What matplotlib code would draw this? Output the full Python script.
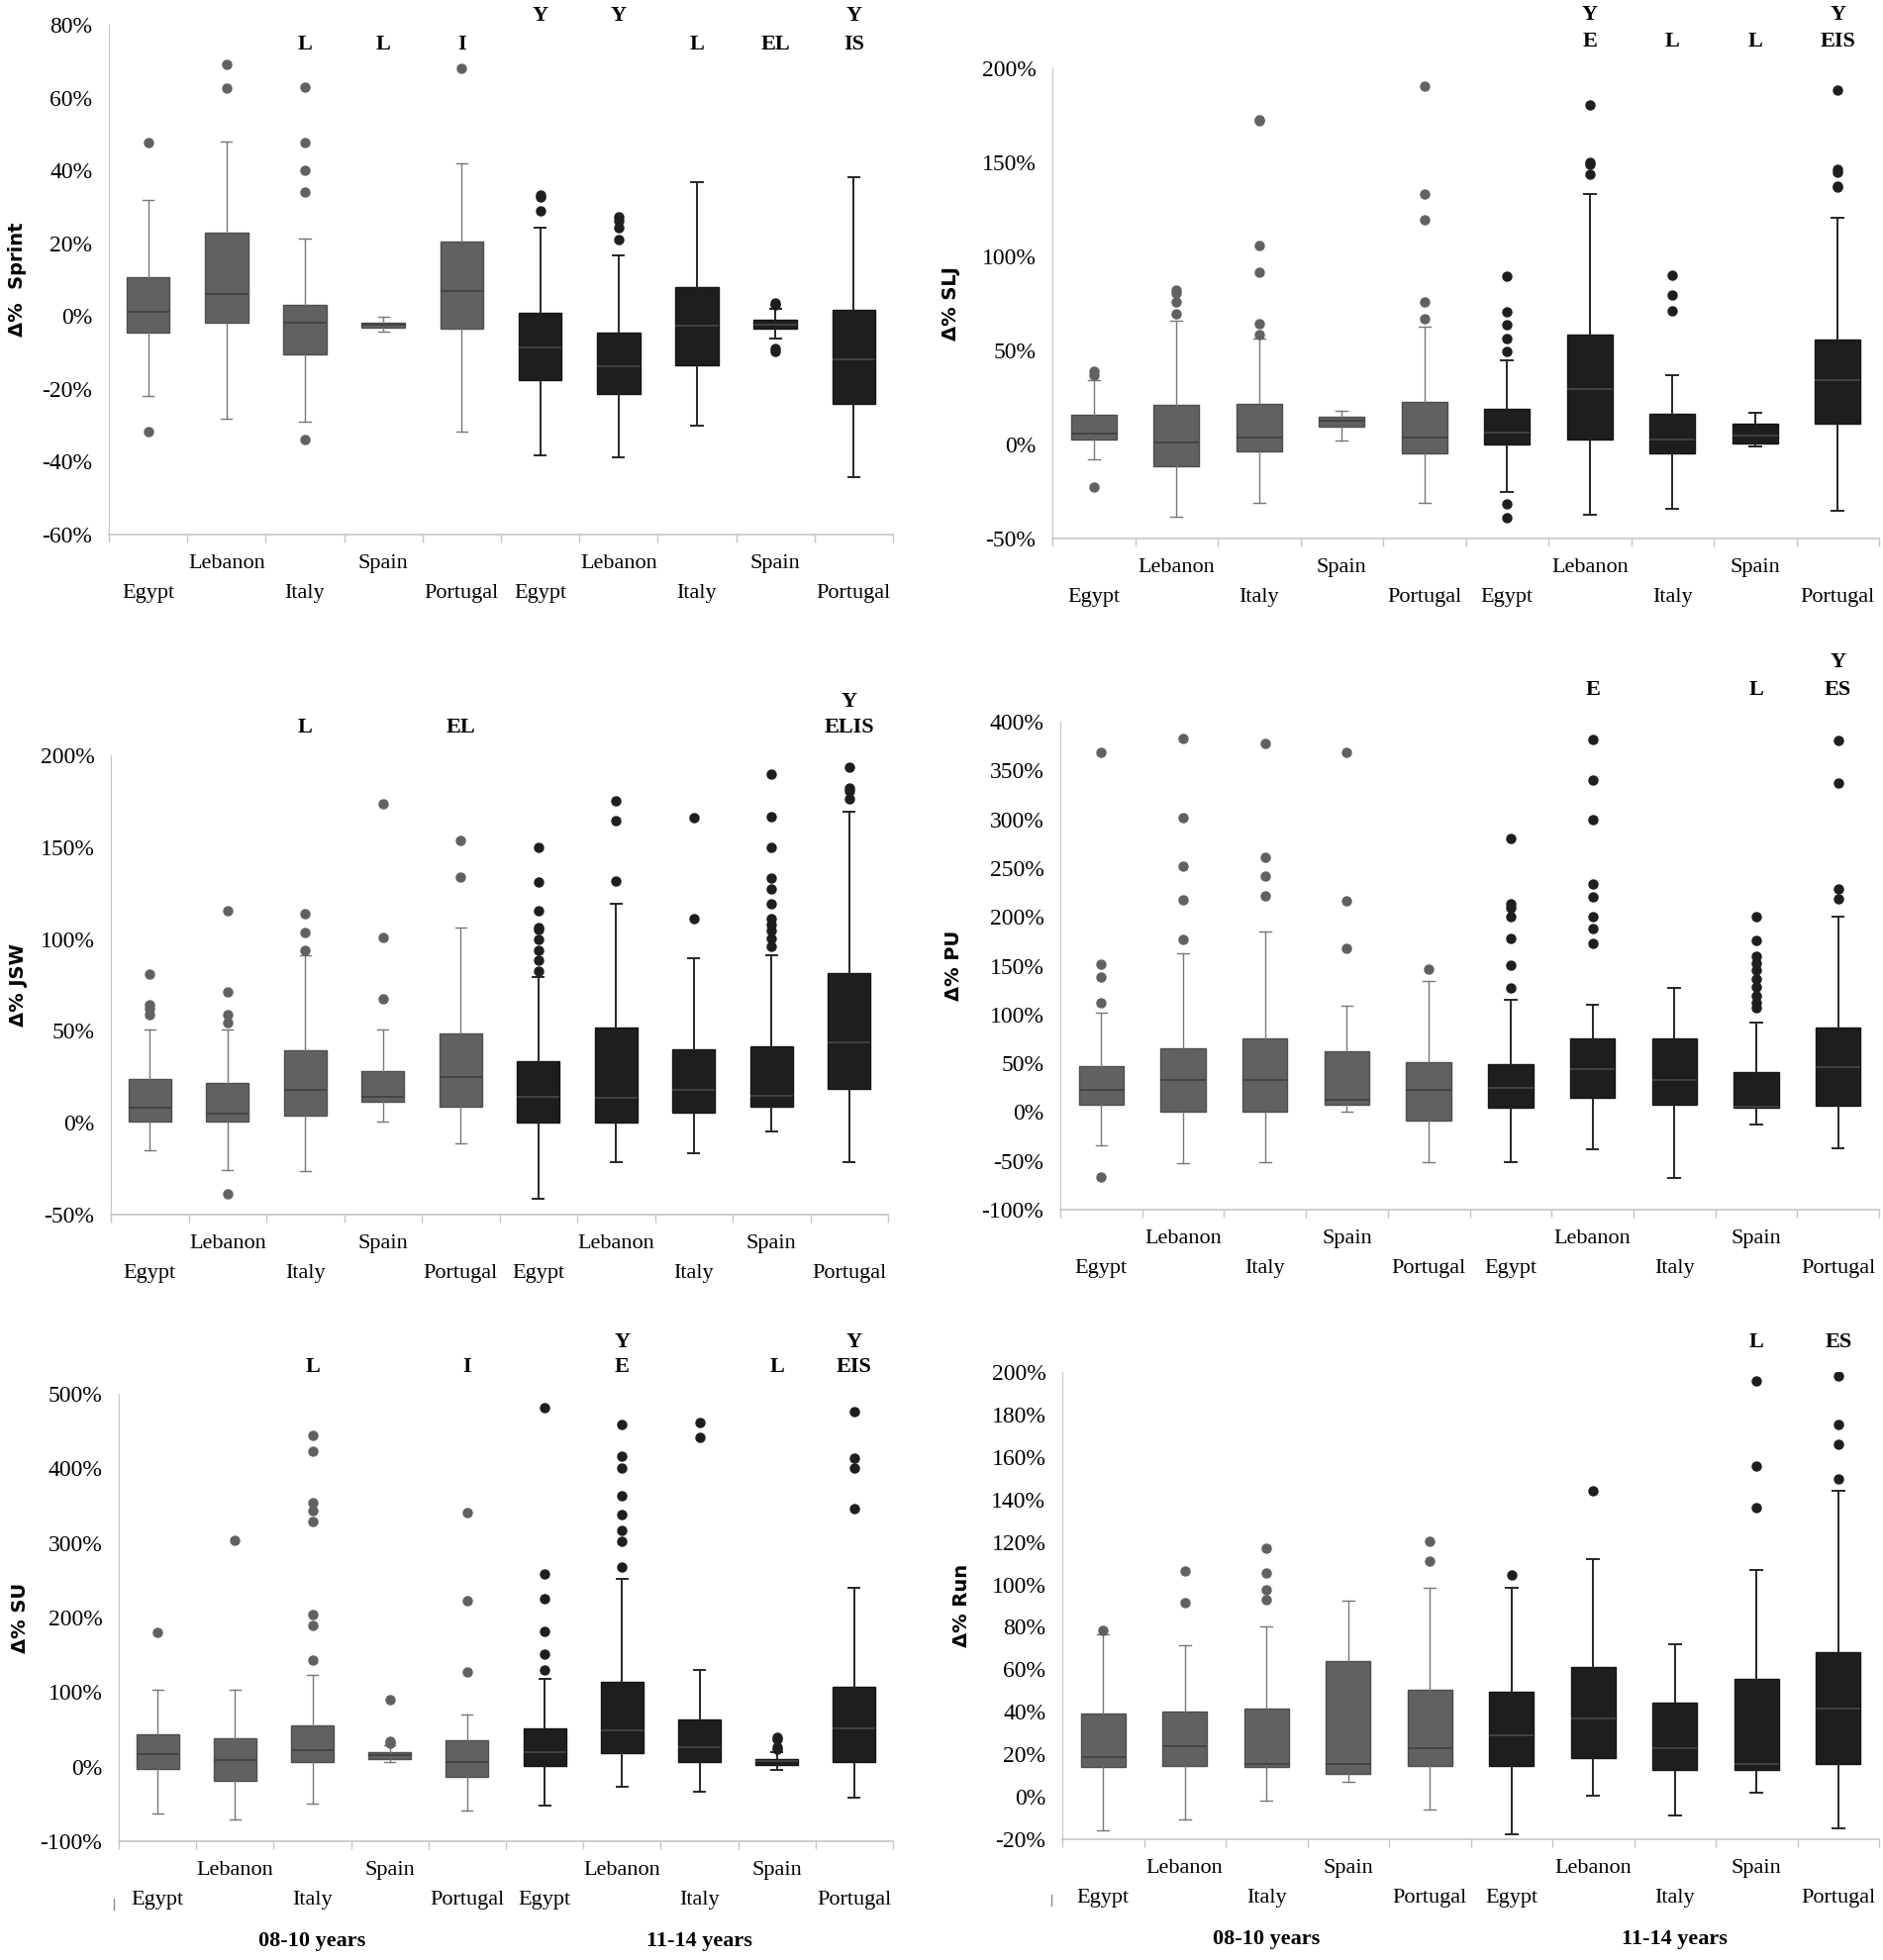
import matplotlib
matplotlib.use('Agg')
import matplotlib.pyplot as plt
from matplotlib.lines import Line2D
from matplotlib.ticker import MultipleLocator, FuncFormatter

countries = ['Egypt', 'Lebanon', 'Italy', 'Spain', 'Portugal']
age_groups = ['08-10 years', '11-14 years']

# values in %, first five boxes 08-10 years, last five 11-14 years
sprint_q1 = [-4.6, -1.7, -10.6, -3.1, -3.4, -17.6, -21.3, -13.6, -3.4, -24.1]
sprint_med = [1.3, 6.1, -1.7, -2.3, 7.0, -8.6, -13.7, -2.7, -2.3, -11.9]
sprint_q3 = [10.6, 22.8, 3.1, -1.7, 20.6, 1.0, -4.6, 8.0, -0.9, 1.7]
sprint_lo = [-22, -28.3, -29.1, -4.2, -31.7, -38.3, -38.7, -30, -6.1, -44.2]
sprint_hi = [32, 48, 21.3, -0.2, 42, 24.3, 16.6, 36.9, 2.1, 38]
sprint_out = [[47.6, -31.7], [69.2, 62.6], [63, 47.6, 40, 34.1, -33.9], [], [68.1],
              [33.3, 32.8, 29], [27.2, 26.3, 24.3, 21], [], [3.7, 3.1, -8.9, -9.7], []]
sprint_sig1 = ['', '', '', '', '', 'Y', 'Y', '', '', 'Y']
sprint_sig2 = ['', '', 'L', 'L', 'I', '', '', 'L', 'EL', 'IS']

slj_q1 = [2.4, -11.8, -3.6, 9.7, -4.7, 0.2, 2.4, -4.7, 0.6, 10.9]
slj_med = [5.6, 1.1, 3.9, 12.4, 3.9, 6.4, 29.4, 2.8, 4.9, 34.1]
slj_q3 = [15.7, 20.8, 21.5, 15, 22.7, 18.9, 58.6, 16.1, 10.9, 55.8]
slj_lo = [-7.9, -38.6, -30.9, 2.1, -31.1, -25.5, -37.6, -34.1, -1.1, -35]
slj_hi = [34.3, 65.9, 56.5, 17.8, 62.4, 44.6, 133.3, 36.7, 17, 120.6]
slj_out = [[38.8, 37.1, -22.5], [82.2, 80.7, 75.8, 69.7], [172.7, 171.9, 105.8, 91.8, 64.4, 58.6], [],
           [190.5, 133, 119.7, 75.8, 66.7], [89.5, 70.4, 63.9, 56.4, 49.6, -31.5, -39],
           [180.5, 150.2, 148.7, 143.8], [90.1, 79.4, 71], [], [188.4, 146.4, 144.8, 137.6, 136.7]]
slj_sig1 = ['', '', '', '', '', '', 'Y', '', '', 'Y']
slj_sig2 = ['', '', '', '', '', '', 'E', 'L', 'L', 'EIS']

jsw_q1 = [0.9, 0.9, 4.1, 11.3, 8.8, 0, 0, 5.4, 8.8, 18.6]
jsw_med = [8.1, 5, 18.1, 14, 24.7, 14, 13.6, 18.1, 14.7, 43.9]
jsw_q3 = [24, 21.7, 39.6, 28.3, 48.4, 33.7, 51.6, 40, 41.6, 81.2]
jsw_lo = [-14.9, -25.8, -26.2, 0.9, -11.3, -41.6, -21.7, -16.5, -4.8, -21.7]
jsw_hi = [50.9, 51, 91, 50.9, 106.3, 79.4, 119, 89.8, 91, 169.5]
jsw_out = [[80.8, 64.3, 62, 58.6], [115.2, 71, 58.6, 54.5, -38.5], [114, 103.6, 94], [173.8, 100.9, 67.4],
           [153.6, 133.9], [149.8, 131, 115.6, 106.3, 105, 100, 94.1, 88.7, 82.8], [175.1, 164.7, 131.4],
           [166, 111.3], [190, 166.5, 149.8, 133.3, 127.1, 119, 111.3, 107.9, 104.5, 100.5, 96],
           [193.4, 182.1, 180.5, 176.5]]
jsw_sig1 = ['', '', '', '', '', '', '', '', '', 'Y']
jsw_sig2 = ['', '', 'L', '', 'EL', '', '', '', '', 'ELIS']

pu_q1 = [7.3, 0, 0, 7.3, -8.5, 4.3, 14.9, 7.3, 4.3, 6]
pu_med = [23, 32.4, 32.4, 12.8, 23, 24.3, 44.4, 32.4, 5.5, 45.6]
pu_q3 = [46.9, 65.3, 75.9, 62.7, 50.8, 49, 75.9, 75.9, 41.4, 86.2]
pu_lo = [-34.1, -52, -51.2, 0, -51.2, -51.2, -38.4, -67.4, -12.8, -36.7]
pu_hi = [101.5, 163, 185.2, 109.2, 134.4, 114.8, 110, 127.6, 91.7, 200.5]
pu_out = [[369, 151.5, 138.7, 112.2, -66.1], [382.7, 301.6, 251.7, 217.6, 176.6], [377.6, 261.5, 241.9, 221.8],
          [369, 216.7, 168.1], [146.3], [280.3, 213.3, 209, 199.7, 177.9, 150.2, 126.7],
          [381.4, 340, 300, 233.8, 220.6, 199.7, 187.7, 172.8], [],
          [199.7, 175.8, 160, 152.7, 145, 136.5, 128, 119.5, 111.8, 106.7], [380.5, 337, 229.1, 218.4]]
pu_sig1 = ['', '', '', '', '', '', '', '', '', 'Y']
pu_sig2 = ['', '', '', '', '', '', 'E', '', 'L', 'ES']

su_q1 = [-3.2, -18.9, 6.5, 10.8, -14.1, 1.1, 18.4, 6.5, 2.7, 6.5]
su_med = [16.2, 9.2, 22.7, 15.7, 6.5, 20, 48.2, 26.5, 7.6, 51.4]
su_q3 = [42.8, 37.4, 55.8, 19, 35.2, 51.4, 113.2, 63.3, 10.8, 107.7]
su_lo = [-63.3, -70.9, -49.3, 6.5, -58.5, -52, -27.1, -33, -4.3, -42.2]
su_hi = [103.4, 103.4, 122.4, 28.2, 69.8, 117.5, 251.2, 129.9, 20, 239.8]
su_out = [[179.7], [303.2], [444, 423.4, 354.6, 343.8, 328.6, 204.1, 189, 142.9], [90.4, 34.7, 30.9],
          [341.1, 223.1, 127.2], [481.9, 258.3, 225.8, 180.8, 151, 129.4],
          [458.6, 416.9, 400.6, 363.8, 338.4, 316.7, 301.6, 268], [461.3, 441.3],
          [39.5, 36.8, 26.5, 23.8], [475.9, 413.6, 400.6, 346]]
su_sig1 = ['', '', '', '', '', '', 'Y', '', '', 'Y']
su_sig2 = ['', '', 'L', '', 'I', '', 'E', '', 'L', 'EIS']

run_q1 = [13.9, 14.4, 13.9, 10.6, 14.4, 14.4, 18.1, 12.5, 12.4, 15.2]
run_med = [18.6, 24, 15.6, 15.4, 22.8, 29.1, 36.7, 22.8, 15.4, 41.4]
run_q3 = [39, 39.9, 41.4, 63.7, 50.4, 49.4, 61, 44.3, 55.3, 68.1]
run_lo = [-15.6, -10.5, -1.7, 7, -6.1, -17.7, 0.6, -8.6, 2.1, -15]
run_hi = [76.6, 71.3, 80.4, 92.2, 98.5, 98.5, 111.8, 71.9, 107, 143.9]
run_out = [[78.5], [106.1, 91.3], [117.1, 105.5, 97.5, 92.6], [], [120.3, 110.8], [104.6], [143.9], [],
           [195.8, 155.5, 136.3], [198.3, 175.1, 166, 149.8]]
run_sig1 = ['', '', '', '', '', '', '', '', '', '']
run_sig2 = ['', '', '', '', '', '', '', '', 'L', 'ES']

W, H = 1902, 1980
SERIF = 'Liberation Serif'
GREY = '#616161'
DARK = '#1e1e1e'
AXC = '#c6c6c6'

fig = plt.figure(figsize=(W / 100, H / 100), dpi=100)


def px_rect(l, t, r, b):
    return [l / W, 1 - b / H, (r - l) / W, (b - t) / H]


def draw_panel(ax, name, q1, med, q3, lo, hi, out, sig1, sig2,
               ylim, step, sig_y, label_x, bottom_row=False):
    stats = []
    for i in range(10):
        stats.append(dict(q1=q1[i], med=med[i], q3=q3[i], whislo=lo[i],
                          whishi=hi[i], fliers=out[i]))
    pos = list(range(1, 11))
    for grp, fc, ec, wc, lw in [(slice(0, 5), GREY, '#4e4e4e', '#777777', 1.0),
                                 (slice(5, 10), DARK, '#151515', '#262626', 1.4)]:
        ax.bxp(stats[grp], positions=pos[grp], widths=0.55, capwidths=0.14,
               patch_artist=True, manage_ticks=False,
               boxprops=dict(facecolor=fc, edgecolor=ec, linewidth=1.0),
               medianprops=dict(color='#3f3f3f' if fc == GREY else '#474747', linewidth=1.2),
               whiskerprops=dict(color=wc, linewidth=lw),
               capprops=dict(color=wc, linewidth=lw),
               flierprops=dict(marker='o', markerfacecolor=fc, markeredgecolor=fc,
                               markersize=6.5, linestyle='none'))

    ax.set_xlim(0.5, 10.5)
    ax.set_ylim(*ylim)
    ax.yaxis.set_major_locator(MultipleLocator(step))
    ax.yaxis.set_major_formatter(FuncFormatter(lambda v, _: f'{v:.0f}%'))
    for s in ['top', 'right', 'bottom']:
        ax.spines[s].set_visible(False)
    ax.spines['left'].set_color(AXC)
    ax.tick_params(axis='y', length=0, pad=12, labelsize=17)
    for lab in ax.get_yticklabels():
        lab.set_fontfamily(SERIF)

    # category axis: two segments with separators
    xt = ax.get_xaxis_transform()
    ax.plot([0.5, 5.49], [0, 0], color=AXC, lw=1.2, transform=xt, clip_on=False)
    ax.plot([5.51, 10.5], [0, 0], color=AXC, lw=1.2, transform=xt, clip_on=False)
    ax.set_xticks([p + 0.5 for p in range(0, 11)])
    ax.set_xticklabels([])
    ax.tick_params(axis='x', length=6, width=1, color=AXC, direction='out')

    for i in range(10):
        c = countries[i % 5]
        off = -21.5 if c in ('Lebanon', 'Spain') else -42.5
        ax.annotate(c, xy=(pos[i], 0), xycoords=xt, xytext=(0, off),
                    textcoords='offset points', ha='center', va='center',
                    fontsize=16, family=SERIF, annotation_clip=False)
        for txt, fy in [(sig1[i], sig_y[0]), (sig2[i], sig_y[1])]:
            if txt:
                ax.text(pos[i], fy, txt, transform=xt, ha='center', va='center',
                        fontsize=16, fontweight='bold', family=SERIF, clip_on=False)

    if bottom_row:
        for g, cx in zip(age_groups, [3, 8]):
            ax.annotate(g, xy=(cx, 0), xycoords=xt, xytext=(0, -73),
                        textcoords='offset points', ha='center', va='center',
                        fontsize=16, fontweight='bold', family=SERIF,
                        annotation_clip=False)

    bb = ax.get_position()
    fig.text(label_x / W, bb.y0 + bb.height / 2, name, rotation=90,
             ha='center', va='center', fontsize=14, fontweight='bold',
             family='DejaVu Sans')


ax1 = fig.add_axes(px_rect(110, 25, 902, 540))
draw_panel(ax1, 'Δ%  Sprint', sprint_q1, sprint_med, sprint_q3, sprint_lo, sprint_hi,
           sprint_out, sprint_sig1, sprint_sig2, (-60, 80), 20, (1.018, 0.962), 18)

ax2 = fig.add_axes(px_rect(1063, 69, 1898, 544))
draw_panel(ax2, 'Δ% SLJ', slj_q1, slj_med, slj_q3, slj_lo, slj_hi,
           slj_out, slj_sig1, slj_sig2, (-50, 200), 50, (1.114, 1.057), 961)

ax3 = fig.add_axes(px_rect(112, 763, 897, 1227))
draw_panel(ax3, 'Δ% JSW', jsw_q1, jsw_med, jsw_q3, jsw_lo, jsw_hi,
           jsw_out, jsw_sig1, jsw_sig2, (-50, 200), 50, (1.116, 1.060), 18)

ax4 = fig.add_axes(px_rect(1071, 729, 1898, 1222))
draw_panel(ax4, 'Δ% PU', pu_q1, pu_med, pu_q3, pu_lo, pu_hi,
           pu_out, pu_sig1, pu_sig2, (-100, 400), 50, (1.121, 1.065), 964)

ax5 = fig.add_axes(px_rect(120, 1408, 902, 1860))
draw_panel(ax5, 'Δ% SU', su_q1, su_med, su_q3, su_lo, su_hi,
           su_out, su_sig1, su_sig2, (-100, 500), 100, (1.115, 1.060), 20, bottom_row=True)

ax6 = fig.add_axes(px_rect(1073, 1386, 1898, 1858))
draw_panel(ax6, 'Δ% Run', run_q1, run_med, run_q3, run_lo, run_hi,
           run_out, run_sig1, run_sig2, (-20, 200), 20, (1.115, 1.064), 971, bottom_row=True)

# small leftover marks of the multi-level category axis
for x, y in [(115, 1918), (1062, 1914)]:
    fig.add_artist(Line2D([x / W, x / W], [1 - y / H, 1 - (y + 11) / H], color='#8a8a8a', lw=1))

fig.savefig('out.png', dpi=100, facecolor='white')
